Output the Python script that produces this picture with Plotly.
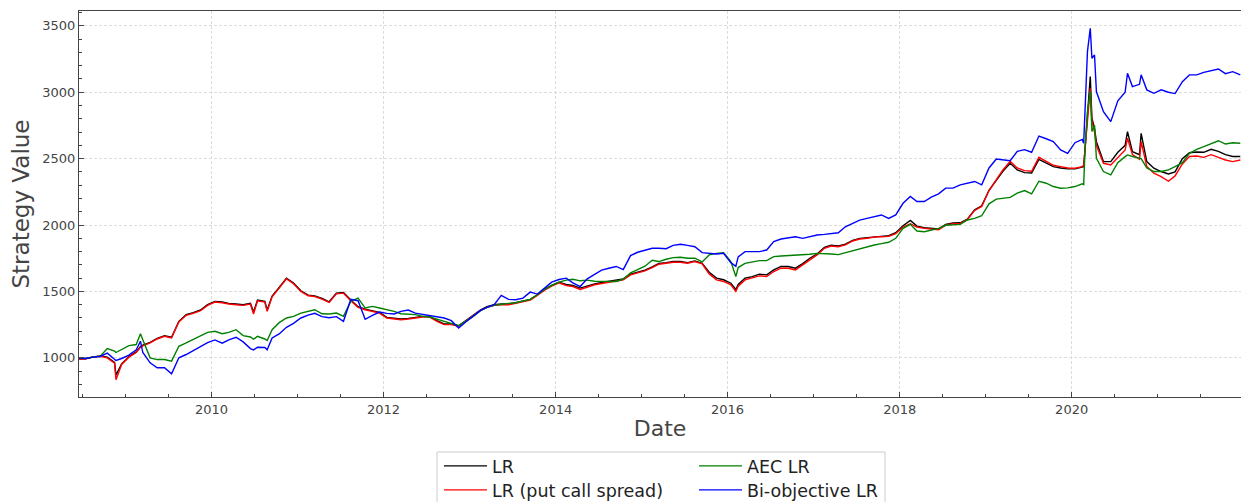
import plotly.graph_objects as go

# ---------------- data ----------------
DATES = [
    "2008-06-17", "2008-07-15", "2008-08-15", "2008-09-15", "2008-10-15", "2008-11-15", "2008-11-21", "2008-12-15",
    "2009-01-15", "2009-02-15", "2009-03-05", "2009-03-15", "2009-04-15", "2009-05-15", "2009-06-15", "2009-07-15",
    "2009-08-15", "2009-09-15", "2009-10-15", "2009-11-15", "2009-12-15",
    "2010-01-15", "2010-02-15", "2010-03-15", "2010-04-15", "2010-05-15", "2010-06-15", "2010-06-28", "2010-07-15",
    "2010-08-15", "2010-08-25", "2010-09-15", "2010-10-15", "2010-11-15", "2010-12-15",
    "2011-01-15", "2011-02-15", "2011-03-15", "2011-04-15", "2011-05-15", "2011-06-15",
    "2011-07-15", "2011-08-15", "2011-09-15", "2011-10-15", "2011-11-15", "2011-12-15",
    "2012-01-15", "2012-02-15", "2012-03-15", "2012-04-15", "2012-05-15", "2012-06-15",
    "2012-07-15", "2012-08-15", "2012-09-15", "2012-10-15", "2012-11-15", "2012-12-15",
    "2013-01-15", "2013-02-15", "2013-03-15", "2013-04-15", "2013-05-15", "2013-06-15",
    "2013-07-15", "2013-08-15", "2013-09-15", "2013-10-15", "2013-11-15", "2013-12-15",
    "2014-01-15", "2014-02-15", "2014-03-15", "2014-04-15", "2014-05-15", "2014-06-15",
    "2014-07-15", "2014-08-15", "2014-09-15", "2014-10-15", "2014-11-15", "2014-12-15",
    "2015-01-15", "2015-02-15", "2015-03-15", "2015-04-15", "2015-05-15", "2015-06-15",
    "2015-07-15", "2015-08-15", "2015-09-15", "2015-10-15", "2015-11-15", "2015-12-15",
    "2016-01-15", "2016-02-05", "2016-02-15", "2016-03-15", "2016-04-15", "2016-05-15", "2016-06-15",
    "2016-07-15", "2016-08-15", "2016-09-15", "2016-10-15", "2016-11-15", "2016-12-15",
    "2017-01-15", "2017-02-15", "2017-03-15", "2017-04-15", "2017-05-15", "2017-06-15",
    "2017-07-15", "2017-08-15", "2017-09-15", "2017-10-15", "2017-11-15", "2017-12-15",
    "2018-01-15", "2018-02-15", "2018-03-15", "2018-04-15", "2018-05-15", "2018-06-15",
    "2018-07-15", "2018-08-15", "2018-09-15", "2018-10-15", "2018-11-15", "2018-12-15",
    "2019-01-15", "2019-02-15", "2019-03-15", "2019-04-15", "2019-05-15", "2019-06-15",
    "2019-07-15", "2019-08-15", "2019-09-15", "2019-10-15", "2019-11-15", "2019-12-15",
    "2020-01-15", "2020-02-15", "2020-02-21", "2020-02-27", "2020-03-08", "2020-03-20", "2020-03-27",
    "2020-04-07", "2020-04-15", "2020-05-15", "2020-06-15", "2020-07-15", "2020-08-15", "2020-08-25",
    "2020-09-15", "2020-10-15", "2020-10-22", "2020-11-15", "2020-12-15",
    "2021-01-15", "2021-02-15", "2021-03-15", "2021-04-15", "2021-05-15", "2021-06-15",
    "2021-07-15", "2021-08-15", "2021-09-15", "2021-10-15", "2021-11-15", "2021-12-17",
]

LR = [
    990, 993, 1007, 1015, 1005, 965, 870, 955,
    1010, 1045, 1085, 1095, 1117, 1147, 1167, 1155, 1275, 1325, 1340, 1360, 1400,
    1425, 1420, 1410, 1405, 1400, 1410, 1345, 1435, 1425, 1360, 1465, 1530, 1600, 1563,
    1505, 1472, 1467, 1447, 1422, 1487, 1492, 1435, 1385, 1367, 1355, 1342,
    1305, 1297, 1292, 1297, 1305, 1312, 1312, 1280, 1255, 1255, 1242, 1280,
    1315, 1360, 1385, 1400, 1405, 1405, 1415, 1425, 1440, 1475, 1515, 1545,
    1570, 1552, 1545, 1525, 1542, 1557, 1567, 1577, 1585, 1594, 1630, 1643,
    1660, 1685, 1710, 1717, 1725, 1725, 1717, 1730, 1712, 1645, 1600, 1588,
    1562, 1515, 1552, 1600, 1612, 1630, 1625, 1662, 1688, 1688, 1675, 1710, 1750,
    1782, 1832, 1848, 1843, 1856, 1885, 1900, 1905, 1915, 1917, 1920, 1942,
    1995, 2035, 1992, 1980, 1975, 1970, 2005, 2015, 2017, 2045, 2115, 2145,
    2262, 2340, 2405, 2465, 2415, 2395, 2392, 2495, 2465, 2440, 2430, 2423,
    2423, 2433, 2440, 2578, 2829, 3118, 2804, 2728, 2628, 2478, 2478, 2548, 2600, 2704,
    2553, 2530, 2691, 2478, 2428,
    2403, 2385, 2400, 2500, 2545, 2550, 2548, 2570, 2555, 2530, 2516, 2516,
]

LR_PCS = [
    990, 992, 1005, 1012, 1000, 960, 835, 950,
    1005, 1040, 1080, 1090, 1112, 1142, 1162, 1150, 1270, 1320, 1335, 1355, 1395,
    1420, 1415, 1405, 1400, 1395, 1405, 1330, 1430, 1420, 1350, 1460, 1525, 1595, 1558,
    1500, 1467, 1462, 1442, 1417, 1482, 1487, 1430, 1380, 1362, 1350, 1337,
    1300, 1292, 1287, 1292, 1300, 1307, 1307, 1275, 1250, 1250, 1237, 1275,
    1310, 1355, 1380, 1395, 1400, 1400, 1410, 1420, 1435, 1470, 1510, 1540,
    1565, 1545, 1537, 1515, 1535, 1550, 1560, 1570, 1578, 1587, 1625, 1638,
    1655, 1680, 1705, 1712, 1720, 1720, 1712, 1725, 1707, 1632, 1587, 1575,
    1550, 1500, 1540, 1587, 1600, 1617, 1612, 1650, 1675, 1675, 1662, 1700, 1742,
    1775, 1825, 1842, 1837, 1850, 1880, 1895, 1900, 1910, 1912, 1915, 1935,
    1985, 2010, 1985, 1975, 1970, 1965, 2000, 2010, 2012, 2040, 2110, 2140,
    2260, 2345, 2415, 2480, 2430, 2410, 2405, 2510, 2478, 2450, 2440, 2430,
    2428, 2440, 2450, 2578, 2800, 3030, 2780, 2700, 2600, 2465, 2453, 2510, 2565, 2654,
    2530, 2495, 2628, 2440, 2390,
    2365, 2330, 2370, 2460, 2516, 2520, 2510, 2530, 2510, 2490, 2478, 2490,
]

AEC_LR = [
    1000, 995, 1005, 1012, 1070, 1050, 1040, 1062,
    1092, 1100, 1182, 1137, 1000, 987, 987, 975, 1087, 1112, 1137, 1162, 1192,
    1200, 1182, 1192, 1212, 1167, 1157, 1140, 1162, 1142, 1130, 1212, 1265, 1300, 1312,
    1337, 1350, 1362, 1332, 1330, 1337, 1312, 1425, 1450, 1375, 1387, 1375,
    1362, 1350, 1332, 1330, 1325, 1312, 1307, 1292, 1275, 1262, 1242, 1275,
    1310, 1355, 1380, 1395, 1405, 1410, 1415, 1425, 1440, 1475, 1515, 1545,
    1570, 1585, 1592, 1580, 1585, 1577, 1575, 1575, 1575, 1592, 1640, 1665,
    1690, 1735, 1725, 1742, 1755, 1757, 1750, 1750, 1722, 1775, 1787, 1792,
    1725, 1612, 1680, 1712, 1725, 1732, 1732, 1762, 1767, 1770, 1772, 1775, 1780,
    1787, 1787, 1782, 1777, 1792, 1805, 1820, 1840, 1850, 1860, 1870, 1900,
    1975, 2005, 1955, 1950, 1960, 1975, 1998, 2000, 2005, 2038, 2050, 2070,
    2160, 2195, 2202, 2208, 2240, 2260, 2235, 2330, 2315, 2290, 2277, 2280,
    2290, 2310, 2305, 2578, 2854, 3005, 2704, 2754, 2503, 2403, 2378, 2470, 2515, 2528,
    2516, 2503, 2500, 2430, 2403,
    2403, 2415, 2440, 2470, 2540, 2570, 2590, 2612, 2635, 2610, 2620, 2616,
]

BIOBJ_LR = [
    1000, 995, 1005, 1010, 1035, 987, 980, 995,
    1020, 1060, 1125, 1040, 962, 925, 925, 880, 1000, 1025, 1055, 1085, 1115,
    1135, 1110, 1135, 1155, 1120, 1070, 1060, 1080, 1078, 1060, 1150, 1180, 1230, 1260,
    1300, 1322, 1335, 1310, 1302, 1310, 1275, 1440, 1430, 1290, 1320, 1345,
    1335, 1330, 1350, 1360, 1337, 1327, 1318, 1310, 1300, 1280, 1225, 1270,
    1310, 1355, 1380, 1400, 1470, 1440, 1437, 1450, 1495, 1480, 1525, 1570,
    1590, 1600, 1565, 1537, 1595, 1625, 1660, 1675, 1688, 1665, 1770, 1795,
    1810, 1825, 1825, 1822, 1847, 1855, 1847, 1837, 1792, 1787, 1782, 1787,
    1717, 1690, 1760, 1800, 1800, 1800, 1812, 1875, 1895, 1905, 1912, 1900, 1912,
    1925, 1930, 1937, 1942, 1987, 2012, 2037, 2050, 2063, 2076, 2050, 2076,
    2164, 2215, 2177, 2177, 2210, 2235, 2278, 2278, 2303, 2316, 2328, 2303,
    2430, 2497, 2492, 2485, 2555, 2568, 2548, 2670, 2650, 2628, 2566, 2540,
    2620, 2645, 2616, 2930, 3306, 3482, 3256, 3281, 3005, 2854, 2779, 2935, 3000, 3143,
    3043, 3060, 3131, 3018, 2992,
    3018, 3000, 2990, 3080, 3131, 3131, 3150, 3160, 3175, 3140, 3155, 3131,
]

SERIES_NAMES = ["LR", "LR (put call spread)", "AEC LR", "Bi-objective LR"]
SERIES_COLORS = ["black", "red", "green", "blue"]
X_RANGE = ["2008-06-17", "2021-12-20"]
Y_RANGE = [705, 3612]

# ---------------- figure ----------------
W, H = 1241, 502
ML, MR, MT, MB = 79, 0, 11, 105
PW, PH = W - ML - MR, H - MT - MB


def px_x(p):
    return (p - ML) / PW


def px_y(p):
    return (H - MB - p) / PH


fig = go.Figure()
series = [LR, LR_PCS, AEC_LR, BIOBJ_LR]
legend_ids = ["legend", "legend2", "legend3", "legend4"]
for name, vals, color, lg in zip(SERIES_NAMES, series, SERIES_COLORS, legend_ids):
    fig.add_trace(go.Scatter(
        x=DATES, y=vals, mode="lines", name=name,
        line=dict(color=color, width=1.4),
        legend=lg,
    ))

AX = "#444444"
common = dict(
    showline=True, linecolor=AX, linewidth=1,
    ticks="inside", ticklen=5, tickwidth=1, tickcolor=AX,
    showgrid=True, gridcolor="#dcdcdc", griddash="3px,2px", gridwidth=0.8,
    tickfont=dict(size=13, color=AX, family="DejaVu Sans"),
    zeroline=False,
)

fig.update_xaxes(
    type="date", range=X_RANGE, tickformat="%Y",
    tick0="2010-01-01", dtick="M24", mirror=True,
    minor=dict(dtick="M6", tick0="2010-01-01", ticks="inside", ticklen=3, tickcolor=AX, showgrid=False),
    title=dict(text="Date", font=dict(size=22, color=AX, family="DejaVu Sans"), standoff=5),
    **common,
)
fig.update_yaxes(
    range=Y_RANGE, tick0=0, dtick=500, mirror=False,
    minor=dict(dtick=100, tick0=0, ticks="inside", ticklen=3, tickcolor=AX, showgrid=False),
    title=dict(text="Strategy Value", font=dict(size=23, color=AX, family="DejaVu Sans"), standoff=6),
    **common,
)

leg_common = dict(
    orientation="v", xanchor="left", yanchor="top",
    bgcolor="rgba(0,0,0,0)", borderwidth=0,
    font=dict(size=17.5, color="#222222", family="DejaVu Sans"),
    itemwidth=43, tracegroupgap=0,
)

# legend entry positions (pixels): two columns x two rows, as in the reference
LEG_COLS = [439, 694]
LEG_ROWS = [448, 472]

fig.update_layout(
    width=W, height=H,
    margin=dict(l=ML, r=MR, t=MT, b=MB, autoexpand=False),
    paper_bgcolor="white", plot_bgcolor="white",
    font=dict(family="DejaVu Sans"),
    showlegend=True,
    legend=dict(x=px_x(LEG_COLS[0]), y=px_y(LEG_ROWS[0]), **leg_common),
    legend2=dict(x=px_x(LEG_COLS[0]), y=px_y(LEG_ROWS[1]), **leg_common),
    legend3=dict(x=px_x(LEG_COLS[1]), y=px_y(LEG_ROWS[0]), **leg_common),
    legend4=dict(x=px_x(LEG_COLS[1]), y=px_y(LEG_ROWS[1]), **leg_common),
    shapes=[dict(
        type="rect", xref="paper", yref="paper",
        x0=px_x(437), x1=px_x(885), y0=px_y(452), y1=px_y(520),
        line=dict(color="#cccccc", width=1), fillcolor="rgba(0,0,0,0)", layer="below",
    )],
)

fig.write_html("out.html")
